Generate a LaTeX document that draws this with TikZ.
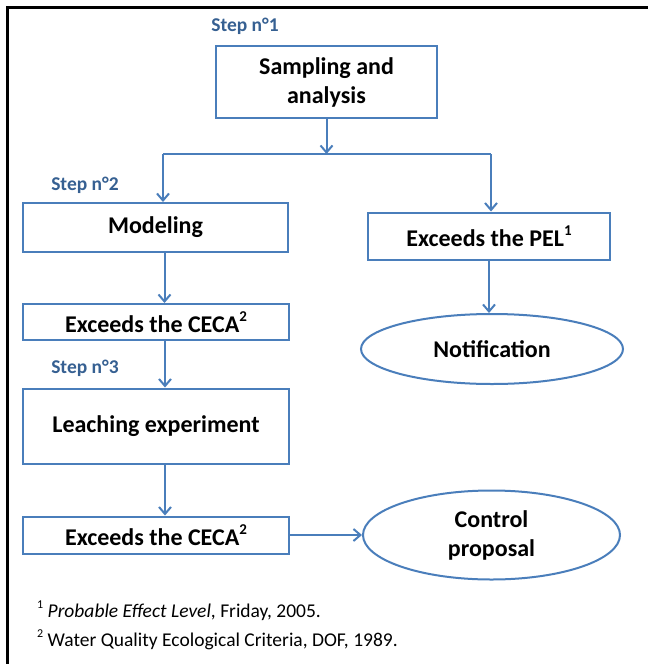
\documentclass[tikz,border=0pt]{standalone}
\usepackage{fontspec}
\setmainfont{Carlito}
\usetikzlibrary{arrows.meta,shapes.geometric}
\definecolor{boxblue}{RGB}{74,126,187}
\definecolor{stepblue}{RGB}{54,96,146}
\tikzset{
  flowbox/.style={draw=boxblue, line width=2pt, fill=white, rectangle, align=center,
    inner sep=0pt, font=\fontsize{24}{29}\selectfont\bfseries},
  flowell/.style={draw=boxblue, line width=2pt, fill=white, ellipse, align=center,
    inner sep=0pt, font=\fontsize{24}{29}\selectfont\bfseries},
  steplabel/.style={text=stepblue, font=\fontsize{19.5}{22}\selectfont\bfseries, inner sep=0pt},
  flowarrow/.style={draw=boxblue, line width=2pt, -{Straight Barb[length=7pt,width=12pt,line width=2pt]}},
  flowline/.style={draw=boxblue, line width=2pt},
  footnote/.style={font=\fontsize{19.5}{22}\selectfont, anchor=west, inner sep=0pt},
}
\newcommand{\fnmark}[1]{\raisebox{0.45em}{\fontsize{12}{12}\selectfont #1}}
\newcommand{\supmark}[1]{\raisebox{0.45em}{\fontsize{15}{15}\selectfont #1}}
\begin{document}
\begin{tikzpicture}[x=1pt,y=-1pt]
\useasboundingbox (0,0) rectangle (648,664);
\fill[white] (0,0) rectangle (648,664);
% frame
\draw[line width=3pt] (7,664) -- (7,7) -- (648,7);

\node[steplabel] (s1) at (245,26) {Step n°1};
\node[flowbox, minimum width=221pt, minimum height=72pt] (b1) at (326.5,82) {Sampling and\\analysis};

\coordinate (j) at (326.5,154);
\coordinate (jl) at (163,154);
\coordinate (jr) at (491,154);
\draw[flowarrow] (b1.south) -- (j);
\draw[flowline] (jl) -- (jr);

\node[steplabel] (s2) at (85,185) {Step n°2};
\node[flowbox, minimum width=265pt, minimum height=49pt] (b2) at (155.5,227.5) {Modeling};
\node[flowbox, minimum width=242pt, minimum height=47pt] (pel) at (489,236) {Exceeds the PEL\supmark{1}};

\draw[flowarrow] (jl) -- (jl |- b2.north);
\draw[flowarrow] (jr) -- (jr |- pel.north);

\node[flowell, minimum width=262pt, minimum height=70pt] (notif) at (492,349) {Notification};
\draw[flowarrow] (pel.south) -- (pel.south |- notif.north);

\node[flowbox, minimum width=266pt, minimum height=36pt] (c1) at (156,322) {Exceeds the CECA\supmark{2}};
\draw[flowarrow] ([xshift=9pt]b2.south) -- ([xshift=9pt]b2.south |- c1.north);

\node[steplabel] (s3) at (85,368) {Step n°3};
\node[flowbox, minimum width=266pt, minimum height=75pt] (b3) at (156,426) {Leaching experiment};
\draw[flowarrow] ([xshift=9pt]c1.south) -- ([xshift=9pt]c1.south |- b3.north);

\node[flowbox, minimum width=266pt, minimum height=37pt] (c2) at (156,535) {Exceeds the CECA\supmark{2}};
\draw[flowarrow] ([xshift=9pt]b3.south) -- ([xshift=9pt]b3.south |- c2.north);

\node[flowell, minimum width=257pt, minimum height=89pt] (ctrl) at (491.5,535) {Control\\proposal};
\draw[flowarrow] (c2.east) -- (ctrl.west);

\node[footnote] (f1) at (37,611) {\fnmark{1} \textit{Probable Effect Level}, Friday, 2005.};
\node[footnote] (f2) at (37,640) {\fnmark{2} Water Quality Ecological Criteria, DOF, 1989.};
\end{tikzpicture}
\end{document}
